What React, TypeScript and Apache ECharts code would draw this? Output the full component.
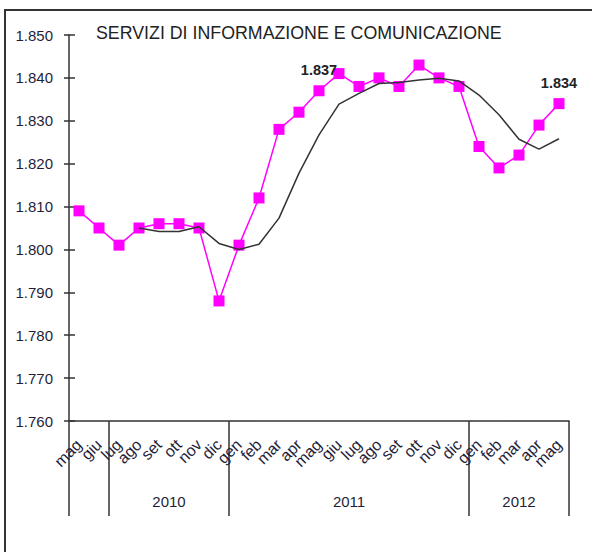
import React, { useEffect, useRef } from "react";
import * as echarts from "echarts";

const months = [
  "mag", "giu", "lug", "ago", "set", "ott", "nov", "dic",
  "gen", "feb", "mar", "apr", "mag", "giu", "lug", "ago", "set", "ott", "nov", "dic",
  "gen", "feb", "mar", "apr", "mag",
];
const occupati = [
  1.809, 1.805, 1.801, 1.805, 1.806, 1.806, 1.805, 1.788,
  1.801, 1.812, 1.828, 1.832, 1.837, 1.841, 1.838, 1.840, 1.838, 1.843, 1.840, 1.838,
  1.824, 1.819, 1.822, 1.829, 1.834,
];
const mediaMobile: (number | null)[] = [
  null, null, null, 1.805, 1.8042, 1.8042, 1.8053, 1.8014,
  1.8000, 1.8012, 1.8073, 1.8178, 1.8267, 1.8339, 1.8364, 1.8387, 1.8389, 1.8395, 1.8399, 1.8393,
  1.8360, 1.8314, 1.8257, 1.8234, 1.8258,
];
const labelledIdx = [12, 24];
const yearLabels = ["", "2010", "2011", "2012"];
const yearBreaks = [0, 2, 8, 20, 25];
const yMin = 1.76;
const yMax = 1.85;
const yStep = 0.01;

const FONT = "'Liberation Sans', Arial, sans-serif";
const TXT = "#1f1f3a";

export default function App() {
  const ref = useRef<HTMLDivElement>(null);
  useEffect(() => {
    if (!ref.current) return;
    const chart = echarts.init(ref.current, undefined, { renderer: "svg" });
    const grid = { left: 69, right: 23, top: 35, bottom: 131 };
    const yAxisBase = {
      type: "value" as const,
      min: yMin,
      max: yMax,
      interval: yStep,
      splitLine: { show: false },
    };
    chart.setOption({
      animation: false,
      backgroundColor: "#ffffff",
      textStyle: { fontFamily: FONT },
      title: {
        text: "SERVIZI DI INFORMAZIONE E COMUNICAZIONE",
        left: 96,
        top: 24,
        padding: 0,
        textStyle: { fontFamily: FONT, fontSize: 17.8, fontWeight: "normal", color: "#222" },
      },
      grid,
      xAxis: {
        type: "category",
        data: months,
        boundaryGap: true,
        axisLine: { show: true, lineStyle: { color: "#333", width: 1.5 } },
        axisTick: { show: false },
        axisLabel: {
          interval: 0,
          rotate: 45,
          margin: 21,
          fontSize: 16,
          color: TXT,
          fontFamily: FONT,
        },
      },
      yAxis: [
        {
          ...yAxisBase,
          axisLine: { show: true, lineStyle: { color: "#333", width: 1.5 } },
          axisTick: { show: true, length: 5, lineStyle: { color: "#333", width: 1.5 } },
          axisLabel: {
            margin: 16,
            fontSize: 15,
            color: TXT,
            fontFamily: FONT,
            formatter: (v: number) => v.toFixed(3),
          },
        },
        {
          ...yAxisBase,
          position: "left",
          axisLine: { show: false },
          axisTick: { show: true, inside: true, length: 6, lineStyle: { color: "#333", width: 1.5 } },
          axisLabel: { show: false },
        },
      ],
      series: [
        {
          type: "line",
          data: occupati.map((v, i) =>
            labelledIdx.includes(i)
              ? {
                  value: v,
                  label: {
                    show: true,
                    position: "top",
                    distance: 8,
                    formatter: (p: any) => p.value.toFixed(3),
                    fontSize: 14.5,
                    fontWeight: "bold",
                    color: "#222",
                    fontFamily: FONT,
                  },
                }
              : v
          ),
          symbol: "rect",
          symbolSize: 11,
          itemStyle: { color: "#ff00ff" },
          lineStyle: { color: "#ff00ff", width: 1.5 },
          z: 2,
        },
        {
          type: "line",
          data: mediaMobile,
          showSymbol: false,
          symbol: "none",
          lineStyle: { color: "#333", width: 1.5 },
          z: 3,
        },
      ],
    });

    const c0 = chart.convertToPixel({ xAxisIndex: 0 }, 0) as number;
    const c1 = chart.convertToPixel({ xAxisIndex: 0 }, 1) as number;
    const band = c1 - c0;
    const start = c0 - band / 2;
    const yAxisPx = chart.convertToPixel({ yAxisIndex: 0 }, yMin) as number;
    const bottomPx = yAxisPx + 95;
    const graphics: any[] = [
      {
        type: "rect",
        shape: { x: 5, y: 10, width: 700, height: 700 },
        style: { fill: "none", stroke: "#333", lineWidth: 2 },
        silent: true,
      },
    ];
    yearBreaks.forEach((b) => {
      const x = Math.round(start + b * band);
      graphics.push({
        type: "line",
        shape: { x1: x, y1: yAxisPx, x2: x, y2: bottomPx },
        style: { stroke: "#333", lineWidth: 1.5 },
        silent: true,
      });
    });
    yearLabels.forEach((lab, i) => {
      if (!lab) return;
      const xm = start + ((yearBreaks[i] + yearBreaks[i + 1]) / 2) * band;
      graphics.push({
        type: "text",
        x: xm,
        y: yAxisPx + 80,
        style: {
          text: lab,
          fill: TXT,
          font: `15px ${FONT}`,
          align: "center",
          verticalAlign: "middle",
        },
        silent: true,
      });
    });
    chart.setOption({ graphic: graphics });

    return () => chart.dispose();
  }, []);
  return (
    <div
      ref={ref}
      style={{ position: "fixed", left: 0, top: 0, width: 592, height: 552 }}
    />
  );
}
